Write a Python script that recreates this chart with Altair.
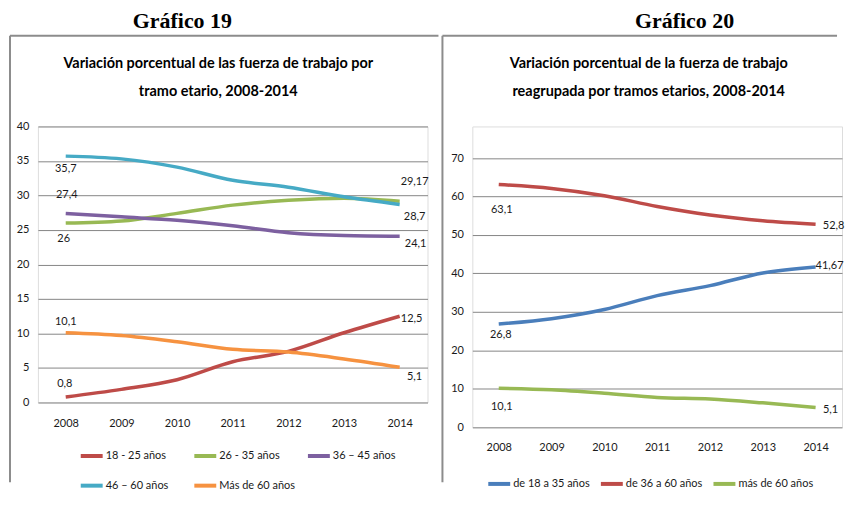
import altair as alt
import pandas as pd

# ---------------- data ----------------
years = ["2008", "2009", "2010", "2011", "2012", "2013", "2014"]

left_series = ["18 - 25 años", "26 -  35 años", "36 – 45 años", "46 – 60 años", "Más de 60 años"]
v_18_25 = [0.8, 1.9, 3.3, 5.9, 7.4, 10.1, 12.5]
v_26_35 = [26.0, 26.3, 27.4, 28.6, 29.3, 29.6, 29.17]
v_36_45 = [27.4, 26.9, 26.4, 25.6, 24.6, 24.2, 24.1]
v_46_60 = [35.7, 35.3, 34.1, 32.2, 31.2, 29.8, 28.7]
v_mas_60 = [10.1, 9.7, 8.8, 7.7, 7.3, 6.3, 5.1]

right_series = ["de 18 a 35 años", "de 36 a 60 años", "más de 60 años"]
v_18_35 = [26.8, 28.2, 30.6, 34.2, 36.8, 40.1, 41.67]
v_36_60 = [63.1, 62.1, 60.2, 57.4, 55.2, 53.7, 52.8]
v_mas_60_r = [10.1, 9.7, 8.8, 7.7, 7.3, 6.3, 5.1]

left_ticks = [0, 5, 10, 15, 20, 25, 30, 35, 40]
right_ticks = [0, 10, 20, 30, 40, 50, 60, 70]

left_title = ["Variación porcentual de las fuerza de trabajo por", "tramo etario, 2008-2014"]
right_title = ["Variación porcentual de la fuerza de trabajo", "reagrupada por tramos etarios, 2008-2014"]


def fmt(v):
    return f"{v:g}".replace(".", ",")


def long_df(names, arrays):
    rows = []
    for n, arr in zip(names, arrays):
        for y, v in zip(years, arr):
            rows.append({"series": n, "year": y, "value": v, "label": fmt(v)})
    return pd.DataFrame(rows)


left_df = long_df(left_series, [v_18_25, v_26_35, v_36_45, v_46_60, v_mas_60])
right_df = long_df(right_series, [v_18_35, v_36_60, v_mas_60_r])

# ---------------- style ----------------
left_colors = ["#BE4B48", "#98B954", "#7D60A0", "#46AAC5", "#F69240"]
right_colors = ["#4A7EBB", "#BE4B48", "#98B954"]
FONT = "Lato"
SERIF = "Liberation Serif"
BORDER = "#8C8C8C"
TXT = "#1a1a1a"
FS = 11

# label placement: (series, year, dx, dy)
left_label_pos = [
    ("46 – 60 años", "2008", 0, 13),
    ("36 – 45 años", "2008", 1, -18),
    ("26 -  35 años", "2008", -2, 16),
    ("Más de 60 años", "2008", 0, -11),
    ("18 - 25 años", "2008", -1, -13),
    ("26 -  35 años", "2014", 15, -19),
    ("46 – 60 años", "2014", 15, 13),
    ("36 – 45 años", "2014", 16, 8),
    ("18 - 25 años", "2014", 12, 3),
    ("Más de 60 años", "2014", 15, 10),
]
right_label_pos = [
    ("de 36 a 60 años", "2008", 3, 26),
    ("de 18 a 35 años", "2008", 2, 11),
    ("más de 60 años", "2008", 3, 19),
    ("de 36 a 60 años", "2014", 18, 2),
    ("de 18 a 35 años", "2014", 14, -1),
    ("más de 60 años", "2014", 15, 3),
]

one = pd.DataFrame({"k": [0]})


def panel(df, names, colors, ticks, ymax, W, H, yrange, label_pos, legend, deco):
    xenc = alt.X("year:O", sort=years, title=None,
                 scale=alt.Scale(type="point", padding=0.5),
                 axis=alt.Axis(labelAngle=0, ticks=False, domain=False, grid=False,
                               labelPadding=15, labelFont=FONT, labelFontSize=FS,
                               labelColor=TXT))
    yscale = alt.Scale(domain=[0, ymax], nice=False, range=yrange) if yrange else \
        alt.Scale(domain=[0, ymax], nice=False)
    yenc = alt.Y("value:Q", title=None, scale=yscale,
                 axis=alt.Axis(values=ticks, ticks=False, domain=False, grid=True,
                               gridColor="#868686", gridWidth=1, labelPadding=9,
                               labelOverlap=False,
                               labelFont=FONT, labelFontSize=FS, labelColor=TXT))
    lines = alt.Chart(df).mark_line(interpolate="monotone", strokeWidth=3.5).encode(
        x=xenc, y=yenc,
        color=alt.Color("series:N", sort=names,
                        scale=alt.Scale(domain=names, range=colors),
                        legend=legend),
    )
    layers = [lines]
    for s, yr, dx, dy in label_pos:
        layers.append(
            alt.Chart(df).transform_filter(
                (alt.datum.series == s) & (alt.datum.year == yr)
            ).mark_text(dx=dx, dy=dy, align="center", baseline="middle",
                        font=FONT, fontSize=FS, color=TXT).encode(
                x=xenc, y=yenc, text="label:N")
        )
    layers += deco
    return alt.layer(*layers).properties(width=W, height=H)


def rule(x1, y1, x2, y2, w=2):
    return alt.Chart(one).mark_rule(color=BORDER, strokeWidth=w).encode(
        x=alt.value(x1), y=alt.value(y1), x2=alt.value(x2), y2=alt.value(y2))


def txt(t, x, y, font, size, weight="bold"):
    return alt.Chart(one).mark_text(text=t, font=font, fontSize=size, fontWeight=weight,
                                    align="center", baseline="alphabetic",
                                    color="#000000").encode(
        x=alt.value(x), y=alt.value(y))


def legend_cfg(**kw):
    return alt.Legend(orient="none", title=None, direction="horizontal",
                      symbolType="M-1,0H3", symbolStrokeWidth=4, symbolSize=121,
                      labelFont=FONT, labelFontSize=FS, labelOffset=12,
                      labelColor=TXT, **kw)


# ---------- left panel (view origin at abs 37,127) ----------
left_deco = [
    rule(-28, -91, 402, -91),
    rule(-28, -91, -28, 357),
    txt("Gráfico 19", 145, -99, SERIF, 22),
    txt(left_title[0], 181, -59, FONT, 14.5),
    txt(left_title[1], 181, -31, FONT, 14.5),
]
left_legend = legend_cfg(legendX=41, legendY=323, columns=3, gridAlign="all",
                         columnPadding=4, rowPadding=13)
left = panel(left_df, left_series, left_colors, left_ticks, 40, 391, 277, None,
             left_label_pos, left_legend, left_deco)

# ---------- right panel (view origin at abs 471,127) ----------
right_deco = [
    rule(-30, -91, 366, -91),
    rule(-30, -91, -30, 357),
    txt("Gráfico 20", 213, -99, SERIF, 22),
    txt(right_title[0], 177, -59, FONT, 14.5),
    txt(right_title[1], 177, -31, FONT, 14.5),
]
right_legend = legend_cfg(legendX=14, legendY=351, columnPadding=3)
right = panel(right_df, right_series, right_colors, right_ticks, 70, 371, 301.7,
              [301.7, 31.7], right_label_pos, right_legend, right_deco)

chart = alt.hconcat(left, right, spacing=0).resolve_scale(
    color="independent", x="independent", y="independent"
).resolve_legend(color="independent").properties(
    padding={"left": 0, "top": 0, "right": 0, "bottom": 0}
).configure_view(stroke=None).configure(background="white")

chart.save("out.html", embed_options={"renderer": "svg", "actions": False})
